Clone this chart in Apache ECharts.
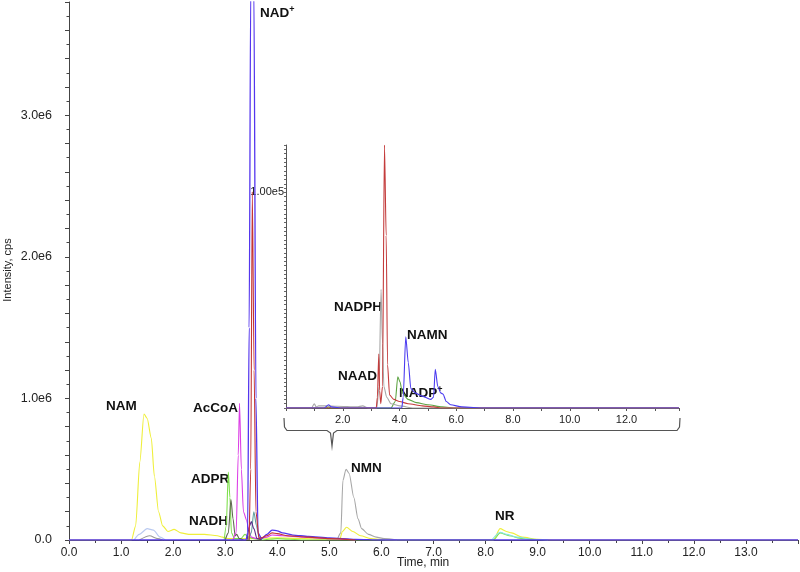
<!DOCTYPE html>
<html>
<head>
<meta charset="utf-8">
<script src="https://cdn.jsdelivr.net/npm/echarts@6/dist/echarts.min.js"></script>
<style>html,body{margin:0;padding:0;background:#fff}#c{width:800px;height:572px}</style>
</head>
<body>
<div id="c"></div>
<script>
// ---------- Main chromatogram traces: [time (min), intensity (cps)] ----------
const namYellow = [[0,0],[1.2,0],[1.28,1.0e5],[1.36,5.5e5],[1.44,8.9e5],[1.5,8.6e5],[1.58,7.2e5],[1.64,4.5e5],[1.72,2.0e5],[1.8,1.0e5],[1.9,6.0e4],[2.02,7.5e4],[2.15,5.0e4],[2.3,4.0e4],[2.6,4.0e4],[2.85,3.0e4],[2.95,2.0e4],[3.05,1.0e4],[3.5,1.0e4],[4.0,1.5e4],[5.0,5e3],[5.2,5e3],[5.25,6.0e4],[5.33,9.0e4],[5.45,6.0e4],[5.6,3.0e4],[5.8,1.0e4],[6.1,0],[8.15,0],[8.28,8.0e4],[8.4,6.0e4],[8.5,5.0e4],[8.7,2.0e4],[9.0,5e3],[9.3,0],[14,0]];
const namLavender = [[1.25,0],[1.35,4.0e4],[1.5,8.0e4],[1.62,7.0e4],[1.75,2.0e4],[1.85,0]];
const namGray = [[1.35,0],[1.55,3.0e4],[1.7,1.0e4],[1.8,0]];
const adprGreen = [[2.98,0],[3.02,1.0e5],[3.06,4.8e5],[3.09,3.0e5],[3.12,5.0e4],[3.18,1.0e4],[3.3,1.0e4],[3.38,4.0e4],[3.45,2.0e4],[3.55,1.0e4],[3.7,0],[4.0,1.0e4],[4.5,0],[8.15,0],[8.28,5.0e4],[8.45,3.0e4],[8.7,1.0e4],[9.0,0]];
const nadhDark = [[3.0,0],[3.06,5.0e4],[3.11,2.86e5],[3.15,1.5e5],[3.19,3.0e4],[3.22,4.0e4],[3.27,1.0e4],[3.35,0]];
const acCoAMagenta = [[3.15,0],[3.21,5.0e4],[3.25,6.0e5],[3.275,9.65e5],[3.31,5.0e5],[3.35,2.0e5],[3.41,1.4e5],[3.45,8.0e4],[3.5,2.0e4],[3.6,1.0e4],[3.8,2.0e4],[3.9,3.5e4],[4.1,3.0e4],[4.5,2.0e4],[5.0,1.0e4],[5.5,0]];
const tealTrace = [[3.45,0],[3.5,5.0e4],[3.55,2.0e5],[3.6,1.0e5],[3.65,2.0e4],[3.7,0]];
const purpleTrace = [[3.42,0],[3.47,1.0e5],[3.5,1.3e5],[3.55,8.0e4],[3.61,1.0e4],[3.7,0]];
const nadBlue = [[0,0],[3.4,0],[3.43,5.0e4],[3.46,1.5e6],[3.49,3.9e6],[3.55,3.9e6],[3.59,1.0e6],[3.63,5.0e4],[3.7,1.0e4],[3.8,4.0e4],[3.9,7.0e4],[4.0,6.5e4],[4.1,5.0e4],[4.3,3.5e4],[4.6,2.5e4],[5.0,1.5e4],[5.5,5e3],[6.0,0],[14,0]];
const nadRed = [[3.46,0],[3.49,5.0e5],[3.52,2.46e6],[3.555,1.2e6],[3.59,2.0e5],[3.65,1.0e4],[3.8,3.0e4],[3.9,5.0e4],[4.0,4.5e4],[4.2,3.0e4],[4.6,2.0e4],[5.0,1.0e4],[5.5,0]];
const nmnGray = [[5.15,0],[5.22,5.0e4],[5.26,4.2e5],[5.32,5.0e5],[5.38,4.7e5],[5.47,3.0e5],[5.55,1.5e5],[5.62,8.0e4],[5.75,4.0e4],[5.9,2.0e4],[6.05,1.0e4],[6.3,0]];
const nrCyan = [[8.12,0],[8.28,5.5e4],[8.4,4.0e4],[8.6,2.0e4],[8.9,5e3],[9.2,0]];

// ---------- Inset traces ----------
const insetRed = [[0,0],[3.18,0],[3.22,5e3],[3.27,2.5e4],[3.3,8e3],[3.34,2e3],[3.4,1.0e4],[3.47,1.22e5],[3.53,8.0e4],[3.58,2.0e4],[3.65,6e3],[3.8,4e3],[4.0,3e3],[4.3,2e3],[4.8,1e3],[5.2,500],[5.5,0],[13.85,0]];
const insetGray = [[0,0],[0.9,0],[1.0,2e3],[1.06,500],[1.15,1e3],[1.4,1e3],[1.8,800],[2.5,500],[2.7,1e3],[2.9,0],[3.2,0],[3.28,1.0e4],[3.35,5.5e4],[3.4,3.0e4],[3.45,1.0e4],[3.55,5e3],[3.7,2e3],[4.0,1e3],[4.5,0],[13.85,0]];
const insetGreen = [[0,0],[1.4,0],[1.5,500],[1.6,0],[3.7,0],[3.85,3e3],[3.94,1.45e4],[4.02,1.2e4],[4.1,7e3],[4.3,4e3],[4.6,2.5e3],[5.0,1.5e3],[5.5,500],[6.0,0],[13.85,0]];
const insetBlue = [[0,0],[1.35,0],[1.5,1.5e3],[1.6,500],[2.0,0],[4.08,0],[4.13,5e3],[4.22,3.3e4],[4.31,2.1e4],[4.4,9e3],[4.55,7e3],[4.8,5.5e3],[5.1,4e3],[5.2,5e3],[5.26,1.8e4],[5.35,1.0e4],[5.45,7e3],[5.53,6.5e3],[5.65,3e3],[5.8,1.5e3],[6.2,500],[7.0,0],[13.85,0]];

// ---------- Axis / label text ----------
const mainXTicks = [0,1,2,3,4,5,6,7,8,9,10,11,12,13];
const mainYLabels = {0:'0.0',1000000:'1.0e6',2000000:'2.0e6',3000000:'3.0e6'};
const insetXLabels = {2:'2.0',4:'4.0',6:'6.0',8:'8.0',10:'10.0',12:'12.0'};
const insetYLabels = {100000:'1.00e5'};
const peakLabels = [
  {name:'NAM', x:106, y:407}, {name:'AcCoA', x:193, y:409}, {name:'ADPR', x:191, y:480},
  {name:'NADH', x:189, y:522}, {name:'NAD', sup:'+', x:260, y:13}, {name:'NMN', x:351, y:469},
  {name:'NR', x:495, y:517}, {name:'NADPH', x:334, y:308}, {name:'NAMN', x:407, y:336},
  {name:'NAAD', x:338, y:377}, {name:'NADP', sup:'+', x:399, y:393}
];

const chart = echarts.init(document.getElementById('c'), null, {renderer:'canvas'});
const FONT = 'Liberation Sans, Arial, sans-serif';

function line(data, color, xi, w) {
  return {type:'line', xAxisIndex:xi, yAxisIndex:xi, data:data, showSymbol:false, symbol:'none',
    smooth:0.25, smoothMonotone:'x', lineStyle:{color:color, width:w||1.1}, itemStyle:{color:color},
    silent:true, animation:false};
}

const graphics = peakLabels.map(p => ({
  type:'text', left:p.x, top:p.y - 8, silent:true,
  style:{ text: p.sup ? '{a|' + p.name + '}{s|' + p.sup + '}' : '{a|' + p.name + '}',
    rich:{ a:{font:'bold 13.5px ' + FONT, fill:'#111', lineHeight:16},
           s:{font:'bold 9px ' + FONT, fill:'#111', lineHeight:16, padding:[0,0,7,0]} } }
}));
graphics.push({type:'text', left:397, top:557, silent:true, style:{text:'Time, min', font:'12px ' + FONT, fill:'#222'}});
graphics.push({type:'text', x:8, y:270, rotation:Math.PI/2, silent:true,
  style:{text:'Intensity, cps', font:'11px ' + FONT, fill:'#222', align:'center', verticalAlign:'middle'}});
graphics.push({type:'polyline', silent:true, shape:{points:[[284,418],[284.5,427],[287,430.5],[327,430.5],[330.5,433],[332,446],[333.5,433],[337,430.5],[677,430.5],[679.5,427],[680,418]]},
  style:{stroke:'#555', lineWidth:1.2, fill:null}});

const option = {
  animation:false,
  backgroundColor:'#fff',
  grid:[
    {left:69, right:2, top:2, bottom:32, containLabel:false, outerBoundsMode:'none'},
    {left:286, right:121, top:145, bottom:164, containLabel:false, outerBoundsMode:'none'}
  ],
  xAxis:[
    {type:'value', gridIndex:0, min:0, max:14, interval:1,
     axisLine:{lineStyle:{color:'#444', width:1}},
     axisTick:{show:true, length:4, lineStyle:{color:'#444'}},
     minorTick:{show:true, splitNumber:2, length:3, lineStyle:{color:'#444'}},
     splitLine:{show:false}, minorSplitLine:{show:false},
     axisLabel:{color:'#222', fontSize:12, fontFamily:FONT, margin:7,
       formatter:v => mainXTicks.indexOf(v) >= 0 ? v.toFixed(1) : ''}},
    {type:'value', gridIndex:1, min:0, max:13.85, interval:1,
     axisLine:{lineStyle:{color:'#555', width:1}},
     axisTick:{show:true, length:3, lineStyle:{color:'#555'}},
     splitLine:{show:false},
     axisLabel:{color:'#222', fontSize:11, fontFamily:FONT, margin:6,
       formatter:v => insetXLabels[v] || ''}}
  ],
  yAxis:[
    {type:'value', gridIndex:0, min:0, max:3800000, interval:200000,
     axisLine:{show:true, lineStyle:{color:'#444', width:1}},
     axisTick:{show:true, length:4, lineStyle:{color:'#444'}},
     minorTick:{show:true, splitNumber:2, length:2.5, lineStyle:{color:'#444'}},
     splitLine:{show:false}, minorSplitLine:{show:false},
     axisLabel:{color:'#222', fontSize:12.5, fontFamily:FONT, margin:17,
       formatter:v => mainYLabels[Math.round(v)] || ''}},
    {type:'value', gridIndex:1, min:0, max:122000, interval:2000,
     axisLine:{show:true, lineStyle:{color:'#555', width:1}},
     axisTick:{show:true, length:2, lineStyle:{color:'#666'}},
     splitLine:{show:false},
     axisLabel:{color:'#222', fontSize:11, fontFamily:FONT, margin:2,
       formatter:v => insetYLabels[Math.round(v)] || ''}}
  ],
  series:[
    line(namYellow, '#efef3a', 0),
    line(namLavender, '#b9c9f0', 0),
    line(namGray, '#999999', 0),
    line(adprGreen, '#7ee04c', 0),
    line(nadhDark, '#5f6650', 0),
    line(acCoAMagenta, '#dc3ee6', 0),
    line(tealTrace, '#5c9c9c', 0),
    line(purpleTrace, '#5a2a8a', 0),
    line(nmnGray, '#a6a6a6', 0),
    line(nrCyan, '#86e4e4', 0),
    line(nadBlue, '#5436ee', 0, 1.3),
    line(nadRed, '#c43434', 0),
    line(insetGreen, '#5ea444', 1),
    line(insetGray, '#a8a8a8', 1),
    line(insetRed, '#c43c3c', 1),
    line(insetBlue, '#4a3af0', 1)
  ],
  graphic: graphics
};
chart.setOption(option);
</script>
</body>
</html>
